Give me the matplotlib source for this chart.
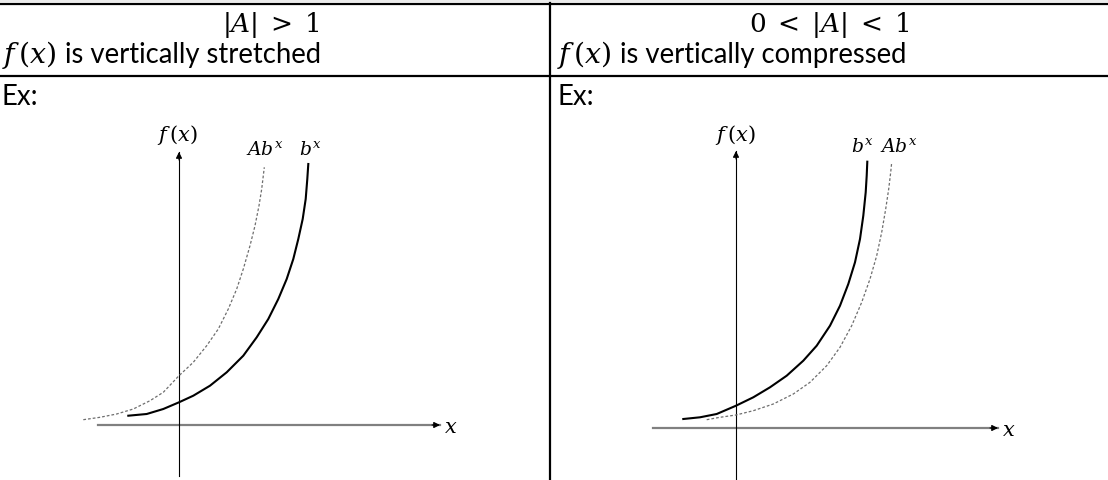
import matplotlib
matplotlib.use("Agg")
import matplotlib.pyplot as plt

plt.rcParams['font.family'] = ['Lato', 'DejaVu Sans']
plt.rcParams['mathtext.fontset'] = 'custom'
plt.rcParams['mathtext.rm'] = 'DejaVu Serif'
plt.rcParams['mathtext.it'] = 'DejaVu Serif:italic'

# header texts
head_left = r'$|A|\;>\;1$'
head_right = r'$0\;<\;|A|\;<\;1$'
desc_math = r'$f\,(x)$'
desc_left = 'is vertically stretched'
desc_right = 'is vertically compressed'

# curve points (origin = axes crossing)
left_bx_x = [-5.07, -3.23, -1.57, 0, 1.43, 3.1, 4.77, 6.43, 7.77, 8.93, 9.93,
             10.77, 11.43, 11.93, 12.37, 12.67, 12.83, 12.93]
left_bx_y = [0.93, 1.1, 1.6, 2.27, 2.93, 3.93, 5.27, 6.93, 8.77, 10.6, 12.6,
             14.6, 16.6, 18.6, 20.6, 22.6, 24.6, 26.1]
left_abx_x = [-9.57, -7.9, -6.23, -4.57, -2.9, -1.57, 0, 1.43, 2.77, 3.93, 4.93,
              5.77, 6.43, 7.1, 7.6, 8.0, 8.27, 8.43, 8.53]
left_abx_y = [0.53, 0.77, 1.1, 1.6, 2.43, 3.27, 4.93, 6.27, 7.93, 9.6, 11.6,
              13.6, 15.6, 17.93, 19.93, 21.93, 23.6, 24.93, 25.77]

right_bx_x = [-5.27, -3.6, -1.93, 0, 1.73, 3.4, 5.07, 6.73, 8.07, 9.4, 10.4,
              11.23, 11.9, 12.4, 12.73, 12.97, 13.07, 13.13]
right_bx_y = [0.9, 1.07, 1.4, 2.23, 3.07, 4.07, 5.23, 6.73, 8.23, 10.23, 12.23,
              14.4, 16.57, 18.9, 21.23, 23.57, 25.23, 26.63]
right_abx_x = [-2.93, -1.6, 0, 1.73, 3.73, 5.73, 7.4, 9.07, 10.4, 11.57, 12.57,
               13.4, 14.07, 14.57, 14.97, 15.27, 15.47, 15.57]
right_abx_y = [0.83, 1.07, 1.3, 1.73, 2.4, 3.4, 4.57, 6.23, 8.07, 10.23, 12.57,
               14.9, 17.23, 19.57, 21.9, 23.9, 25.57, 26.57]

W, H = 1108, 481
fig = plt.figure(figsize=(W / 100, H / 100), dpi=100)

# table frame in pixel coords
tab = fig.add_axes([0, 0, 1, 1])
tab.set_xlim(0, W)
tab.set_ylim(H, 0)
tab.axis('off')
tab.axhspan(0, 3, color='#ebebeb', lw=0)
tab.plot([0, W], [4.5, 4.5], color='black', lw=1.6)
tab.plot([0, W], [77, 77], color='black', lw=1.6)
tab.plot([550, 550], [4, H], color='black', lw=1.6)

tab.text(271, 32, head_left, ha='center', va='baseline', fontsize=19)
tab.text(829, 32, head_right, ha='center', va='baseline', fontsize=19)
for x0, desc in [(2, desc_left), (557, desc_right)]:
    tab.text(x0, 63, desc_math, ha='left', va='baseline', fontsize=20.5)
    tab.text(x0 + 63, 63, desc, ha='left', va='baseline', fontsize=19.8)
    tab.text(x0, 105, 'Ex:', ha='left', va='baseline', fontsize=19.8)


def draw_graph(ax, bx_x, bx_y, abx_x, abx_y, xaxis, yaxis, lab):
    ax.axis('off')
    # x axis
    ax.plot(xaxis, [0, 0], color='#808080', lw=1.6)
    ax.annotate('', xy=(xaxis[1], 0), xytext=(xaxis[1] - 0.8, 0),
                arrowprops=dict(arrowstyle='-|>', color='black', lw=0.8,
                                mutation_scale=9, shrinkA=0, shrinkB=0))
    # y axis
    ax.plot([0, 0], yaxis, color='black', lw=0.8)
    ax.annotate('', xy=(0, yaxis[1]), xytext=(0, yaxis[1] - 0.8),
                arrowprops=dict(arrowstyle='-|>', color='black', lw=0.8,
                                mutation_scale=9, shrinkA=0, shrinkB=0))
    ax.plot(abx_x, abx_y, color='#6e6e6e', lw=0.9, ls=(0, (2.2, 1.6)))
    ax.plot(bx_x, bx_y, color='black', lw=1.5)
    for txt, x, y, ha, fs in lab:
        ax.text(x, y, txt, ha=ha, va='center', fontsize=fs)


axl = fig.add_axes([60 / W, 0, 410 / W, 361 / H])
axl.set_xlim(-11.9, 29.1)
axl.set_ylim(-5.5, 30.6)
draw_graph(axl, left_bx_x, left_bx_y, left_abx_x, left_abx_y,
           [-8.1, 26.1], [-5.1, 27.3],
           [(r'$f\,(x)$', -0.2, 29.1, 'center', 15),
            (r'$Ab^x$', 8.6, 27.7, 'center', 13.5),
            (r'$b^x$', 13.1, 27.7, 'center', 13.5),
            (r'$x$', 26.5, -0.1, 'left', 15)])

axr = fig.add_axes([620 / W, 0, 420 / W, 361 / H])
axr.set_xlim(-11.6, 30.4)
axr.set_ylim(-5.2, 30.9)
draw_graph(axr, right_bx_x, right_bx_y, right_abx_x, right_abx_y,
           [-8.3, 26.2], [-5.2, 27.7],
           [(r'$f\,(x)$', -0.1, 29.4, 'center', 15),
            (r'$b^x$', 12.6, 28.3, 'center', 13.5),
            (r'$Ab^x$', 16.3, 28.3, 'center', 13.5),
            (r'$x$', 26.6, -0.1, 'left', 15)])

fig.savefig('out.png', dpi=100)
